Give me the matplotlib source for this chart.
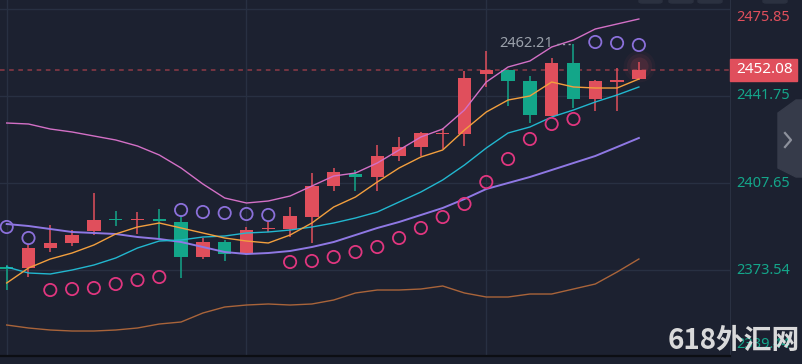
import matplotlib.pyplot as plt
from matplotlib.patches import Polygon, Rectangle, FancyBboxPatch
from matplotlib.lines import Line2D
from matplotlib.transforms import blended_transform_factory
import numpy as np

# candles (oldest -> newest)
opens = [2374.8, 2374.4, 2382.2, 2384.2, 2388.9, 2393.2, 2393.0, 2393.0, 2392.4, 2378.7,
         2384.6, 2379.9, 2389.5, 2389.7, 2394.4, 2406.5, 2411.2, 2410.0, 2418.3, 2421.8,
         2426.7, 2426.9, 2450.4, 2451.9, 2447.6, 2433.9, 2454.7, 2440.6, 2447.4, 2448.4]
highs = [2375.6, 2383.4, 2391.2, 2389.3, 2403.8, 2396.7, 2396.3, 2397.5, 2395.1, 2386.1,
         2385.4, 2390.4, 2392.4, 2398.3, 2411.6, 2413.6, 2412.8, 2422.6, 2425.7, 2427.7,
         2429.2, 2451.5, 2459.4, 2451.9, 2449.6, 2456.6, 2462.21, 2448.0, 2452.7, 2455.1]
lows = [2365.8, 2370.9, 2380.7, 2383.0, 2387.3, 2390.8, 2387.7, 2386.1, 2370.5, 2377.9,
        2377.1, 2379.5, 2388.5, 2386.5, 2384.2, 2404.5, 2404.5, 2404.5, 2416.3, 2418.3,
        2421.0, 2422.2, 2445.3, 2437.8, 2431.2, 2433.9, 2437.1, 2435.9, 2435.9, 2448.2]
closes = [2374.0, 2382.2, 2384.2, 2387.3, 2393.2, 2393.0, 2393.2, 2392.8, 2378.7, 2384.6,
          2379.9, 2389.3, 2389.7, 2394.8, 2406.5, 2412.0, 2410.0, 2418.3, 2421.8, 2427.3,
          2426.9, 2448.8, 2451.9, 2447.6, 2434.3, 2454.7, 2440.6, 2447.6, 2447.6, 2452.08]

# bollinger bands
boll_up = [2431.17, 2430.78, 2428.82, 2427.65, 2426.08, 2424.52, 2422.16, 2418.64, 2413.55, 2407.28,
           2401.80, 2399.84, 2400.62, 2402.58, 2406.50, 2410.41, 2411.59, 2415.51, 2420.60, 2425.69,
           2428.82, 2436.27, 2447.23, 2453.11, 2455.46, 2460.94, 2463.69, 2467.99, 2469.95, 2471.91]
boll_mid = [2391.61, 2390.83, 2389.65, 2388.48, 2388.09, 2387.70, 2386.52, 2385.74, 2384.56, 2382.60,
            2380.64, 2379.86, 2380.25, 2381.04, 2382.60, 2384.56, 2387.30, 2390.05, 2392.40, 2395.14,
            2397.88, 2401.40, 2405.32, 2407.67, 2410.02, 2412.76, 2415.51, 2418.25, 2421.77, 2425.30]
boll_dn = [2352.05, 2350.88, 2350.09, 2349.70, 2349.70, 2350.09, 2350.88, 2352.44, 2353.23, 2356.75,
           2359.10, 2359.88, 2360.28, 2359.88, 2360.28, 2361.84, 2364.59, 2365.76, 2365.76, 2366.15,
           2367.33, 2364.59, 2363.02, 2363.02, 2364.19, 2364.19, 2366.15, 2368.11, 2372.81, 2377.90]

# moving averages
ma5 = [2368.50, 2374.38, 2377.90, 2380.25, 2383.39, 2387.70, 2390.44, 2392.00, 2390.05, 2388.09,
       2386.13, 2384.95, 2384.17, 2387.30, 2392.00, 2398.27, 2402.19, 2408.06, 2413.55, 2417.86,
       2420.60, 2428.43, 2435.48, 2440.18, 2441.75, 2447.23, 2445.28, 2444.88, 2444.88, 2448.41]
ma10 = [2374.77, 2372.42, 2372.03, 2373.59, 2375.55, 2378.29, 2382.21, 2384.95, 2385.35, 2386.52,
        2386.91, 2388.09, 2388.48, 2389.26, 2390.44, 2392.00, 2393.96, 2396.31, 2400.23, 2404.15,
        2408.85, 2414.72, 2421.38, 2427.26, 2429.61, 2433.52, 2436.27, 2439.40, 2442.14, 2445.28]

# parabolic SAR
sar = [2390.44, 2386.13, 2365.76, 2366.15, 2366.54, 2368.11, 2369.68, 2370.85, 2397.10, 2396.31,
       2395.92, 2395.53, 2395.14, 2376.73, 2377.12, 2378.69, 2380.64, 2382.60, 2386.13, 2390.05,
       2394.35, 2399.45, 2408.06, 2417.07, 2424.91, 2430.78, 2432.74, 2462.90, 2462.51, 2461.73]

axis_levels = [2475.85, 2441.75, 2407.65, 2373.54, 2339.44]
last_price = 2452.08
high_label = 2462.21

BG = '#1c2130'
GRID = '#283042'
RED = '#e04f5c'
GREEN = '#13a689'
TEAL = '#14a68a'

W, H = 802, 364
fig = plt.figure(figsize=(W / 100, H / 100), dpi=100, facecolor=BG)
ax = fig.add_axes([0, 8 / H, 730 / W, 356 / H], facecolor=BG)
ax.set_xlim(-0.307, 33.18)
ax.set_ylim(2339.91, 2479.35)

x = np.arange(len(opens))
o = np.array(opens); c = np.array(closes)
up = c >= o
cols = np.where(up, RED, GREEN)

# grid
for lv in axis_levels[:-1]:
    ax.axhline(lv, color=GRID, lw=1, zorder=0)
for gx in [0, 11, 22]:
    ax.axvline(gx, color=GRID, lw=1, zorder=0)

# candles
ax.vlines(x, lows, highs, colors=cols, lw=1.1, zorder=2)
bottoms = np.minimum(o, c)
heights = np.maximum(np.abs(c - o), 0.7)
ax.bar(x, heights, bottom=bottoms, width=0.62, color=cols, zorder=3)

# glow on the live candle
for s, a in [(520, 0.05), (330, 0.08), (170, 0.12)]:
    ax.scatter([x[-1]], [closes[-1] + 1.5], s=s, color=RED, alpha=a, lw=0, zorder=1)

# indicator lines
ax.plot(x, boll_up, color='#d370c6', lw=1.0, zorder=4)
ax.plot(x, boll_dn, color='#a9643a', lw=1.0, zorder=4)
ax.plot(x, boll_mid, color='#8f78e4', lw=1.4, zorder=4)
ax.plot(x, ma10, color='#22b7cf', lw=1.0, zorder=4)
ax.plot(x, ma5, color='#f29f3e', lw=1.0, zorder=4)

# SAR dots
sar_cols = ['#8b70da' if s > cl else '#e0367f' for s, cl in zip(sar, closes)]
ax.scatter(x, sar, s=78, facecolors='none', edgecolors=sar_cols, linewidths=1.3, zorder=5)

# current price line
ax.axhline(last_price, color='#8e3a47', lw=1.1, ls=(0, (3, 3)), zorder=1)

# highest high label
ax.text(25.05, high_label, '2462.21', ha='right', va='center', color='#9ba1ab',
        fontsize=10.5, family='Noto Sans', zorder=6)
ax.plot([25.25, 25.95], [high_label, high_label], color='#9ba1ab', lw=1, ls=(0, (1.5, 2.5)), zorder=6)

for sp in ['top', 'left']:
    ax.spines[sp].set_visible(False)
ax.spines['right'].set_color('#2a3142')
ax.spines['bottom'].set_color('#0c0e13')
ax.spines['bottom'].set_linewidth(1.6)
ax.set_xticks([])
ax.set_yticks([])

# right axis labels
tr = blended_transform_factory(ax.transAxes, ax.transData)
offs = [-9, 0, 0, 0, 13]
for i, lv in enumerate(axis_levels):
    ax.annotate(f'{lv:.2f}', xy=(1, lv), xycoords=tr, xytext=(6, offs[i]),
                textcoords='offset pixels', ha='left', va='center',
                color=RED if i == 0 else TEAL, fontsize=10.5, family='Noto Sans',
                annotation_clip=False)

half = 11 * 0.3917
ax.add_patch(Rectangle((1.0, last_price - half), 67 / 730, 2 * half, transform=tr,
                       color=RED, clip_on=False, zorder=7))
ax.annotate(f'{last_price:.2f}', xy=(1, last_price), xycoords=tr, xytext=(6, 0),
            textcoords='offset pixels', ha='left', va='center', color='white',
            fontsize=11, family='Noto Sans', annotation_clip=False, zorder=8)


def fp(px, py):
    return (px / W, 1 - py / H)


# side tab with chevron
tab = Polygon([fp(778, 113), fp(796, 100), fp(802, 100), fp(802, 177), fp(796, 177), fp(778, 168)],
              closed=True, transform=fig.transFigure, color='#363b4a', zorder=1)
fig.patches.append(tab)
chev = Line2D([785 / W, 791 / W, 785 / W], [1 - 133 / H, 1 - 140 / H, 1 - 147 / H],
              transform=fig.transFigure, color='#8d919c', lw=1.6)
fig.lines.append(chev)

# top toolbar stubs
for x0, x1 in [(639, 662), (669, 693), (698, 722), (763, 787)]:
    fig.patches.append(FancyBboxPatch(fp(x0, 3), (x1 - x0) / W, 4 / H,
                                      boxstyle='round,pad=0,rounding_size=0.004',
                                      transform=fig.transFigure, color='#2b3140'))

# watermark
fig.text(668 / W, 1 - 341 / H, '618外汇网', ha='left', va='center', color='#e4e4e4',
         fontsize=20, fontweight='bold', family=['Noto Sans CJK SC', 'DejaVu Sans'], alpha=0.95)

fig.savefig('out.png', dpi=100, facecolor=BG)
